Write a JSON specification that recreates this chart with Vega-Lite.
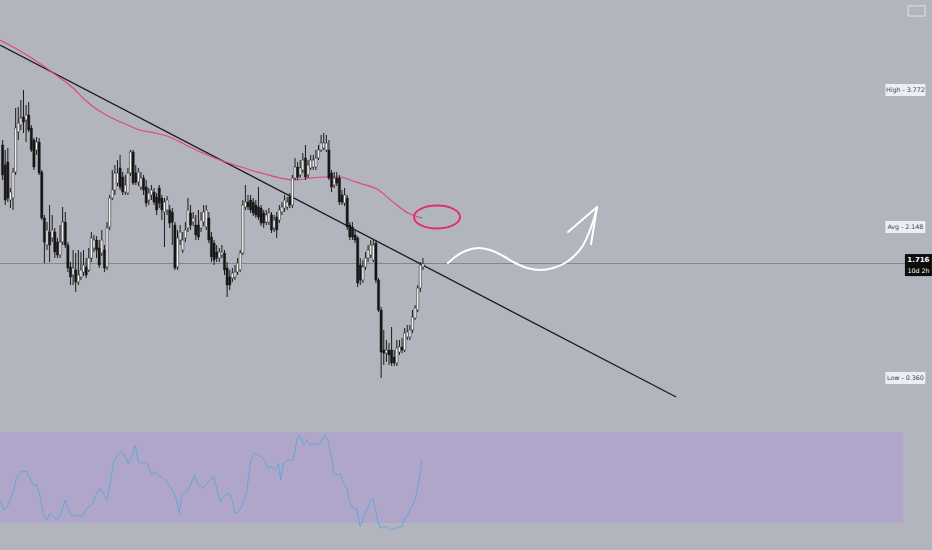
{
  "$schema": "https://vega.github.io/schema/vega-lite/v6.json",
  "background": "#b2b5bd",
  "padding": 0,
  "spacing": 0,
  "config": {"view": {"stroke": null}, "axis": {"disable": true}, "scale": {"continuousPadding": 0}, "mark": {"clip": true}},
  "datasets": {
    "candles": [
      {"t":1,"o":3.120,"h":3.179,"l":2.705,"c":2.765},{"t":2,"o":2.883,"h":3.061,"l":2.409,"c":2.468},{"t":3,"o":2.918,"h":3.085,"l":2.444,"c":2.492},{"t":4,"o":2.468,"h":2.611,"l":2.373,"c":2.563},{"t":5,"o":2.492,"h":2.848,"l":2.350,"c":2.800},{"t":6,"o":2.800,"h":3.559,"l":2.765,"c":3.322},{"t":7,"o":3.274,"h":3.571,"l":3.179,"c":3.380},{"t":8,"o":3.357,"h":3.653,"l":3.298,"c":3.440},{"t":9,"o":3.452,"h":3.772,"l":3.262,"c":3.392},{"t":10,"o":3.416,"h":3.594,"l":3.155,"c":3.476},
      {"t":11,"o":3.476,"h":3.629,"l":3.274,"c":3.298},{"t":12,"o":3.322,"h":3.357,"l":3.037,"c":3.061},{"t":13,"o":3.179,"h":3.203,"l":2.824,"c":2.859},{"t":14,"o":3.061,"h":3.215,"l":3.002,"c":3.155},{"t":15,"o":3.155,"h":3.203,"l":2.765,"c":2.788},{"t":16,"o":2.800,"h":2.824,"l":2.231,"c":2.255},{"t":17,"o":2.255,"h":2.291,"l":1.721,"c":1.970},{"t":18,"o":1.935,"h":2.207,"l":1.876,"c":2.113},{"t":19,"o":2.089,"h":2.409,"l":1.733,"c":1.935},{"t":20,"o":2.018,"h":2.291,"l":1.970,"c":2.113},
      {"t":21,"o":2.089,"h":2.137,"l":1.781,"c":1.852},{"t":22,"o":1.970,"h":2.018,"l":1.781,"c":1.817},{"t":23,"o":1.817,"h":2.172,"l":1.781,"c":1.970},{"t":24,"o":1.970,"h":2.386,"l":1.935,"c":2.207},{"t":25,"o":2.207,"h":2.326,"l":1.900,"c":1.935},{"t":26,"o":1.935,"h":1.970,"l":1.615,"c":1.663},{"t":27,"o":1.675,"h":1.733,"l":1.461,"c":1.556},{"t":28,"o":1.580,"h":1.876,"l":1.461,"c":1.663},{"t":29,"o":1.639,"h":1.840,"l":1.378,"c":1.496},{"t":30,"o":1.496,"h":1.876,"l":1.461,"c":1.580},
      {"t":31,"o":1.556,"h":1.852,"l":1.520,"c":1.639},{"t":32,"o":1.615,"h":1.876,"l":1.568,"c":1.698},{"t":33,"o":1.675,"h":1.781,"l":1.544,"c":1.580},{"t":34,"o":1.639,"h":1.900,"l":1.615,"c":1.781},{"t":35,"o":1.781,"h":2.089,"l":1.733,"c":2.018},{"t":36,"o":1.900,"h":2.054,"l":1.852,"c":1.994},{"t":37,"o":1.994,"h":2.041,"l":1.781,"c":1.876},{"t":38,"o":1.900,"h":1.994,"l":1.663,"c":1.698},{"t":39,"o":1.840,"h":2.113,"l":1.805,"c":1.994},{"t":40,"o":1.876,"h":1.935,"l":1.615,"c":1.663},
      {"t":41,"o":1.675,"h":2.207,"l":1.639,"c":2.137},{"t":42,"o":2.149,"h":2.528,"l":2.113,"c":2.492},{"t":43,"o":2.492,"h":2.824,"l":2.468,"c":2.587},{"t":44,"o":2.587,"h":2.883,"l":2.528,"c":2.788},{"t":45,"o":2.669,"h":2.942,"l":2.634,"c":2.788},{"t":46,"o":2.848,"h":3.002,"l":2.587,"c":2.622},{"t":47,"o":2.741,"h":2.800,"l":2.528,"c":2.563},{"t":48,"o":2.563,"h":2.765,"l":2.528,"c":2.646},{"t":49,"o":2.551,"h":2.848,"l":2.528,"c":2.788},{"t":50,"o":2.788,"h":3.061,"l":2.753,"c":3.037},
      {"t":51,"o":3.037,"h":3.061,"l":2.646,"c":2.669},{"t":52,"o":2.788,"h":2.883,"l":2.646,"c":2.681},{"t":53,"o":2.681,"h":2.848,"l":2.634,"c":2.800},{"t":54,"o":2.622,"h":2.800,"l":2.587,"c":2.729},{"t":55,"o":2.729,"h":2.765,"l":2.528,"c":2.587},{"t":56,"o":2.622,"h":2.705,"l":2.386,"c":2.432},{"t":57,"o":2.468,"h":2.611,"l":2.409,"c":2.551},{"t":58,"o":2.528,"h":2.646,"l":2.468,"c":2.587},{"t":59,"o":2.563,"h":2.611,"l":2.409,"c":2.444},{"t":60,"o":2.504,"h":2.551,"l":2.291,"c":2.350},
      {"t":61,"o":2.611,"h":2.646,"l":2.373,"c":2.432},{"t":62,"o":2.492,"h":2.528,"l":2.231,"c":2.350},{"t":63,"o":2.326,"h":2.492,"l":1.911,"c":2.444},{"t":64,"o":2.350,"h":2.516,"l":2.291,"c":2.468},{"t":65,"o":2.350,"h":2.409,"l":2.137,"c":2.195},{"t":66,"o":2.326,"h":2.373,"l":1.935,"c":2.207},{"t":67,"o":2.172,"h":2.207,"l":1.639,"c":1.663},{"t":68,"o":1.675,"h":2.113,"l":1.639,"c":2.018},{"t":69,"o":1.994,"h":2.172,"l":1.935,"c":2.089},{"t":70,"o":1.876,"h":2.089,"l":1.840,"c":1.994},
      {"t":71,"o":2.018,"h":2.207,"l":1.970,"c":2.113},{"t":72,"o":2.137,"h":2.492,"l":2.089,"c":2.350},{"t":73,"o":2.314,"h":2.409,"l":2.113,"c":2.172},{"t":74,"o":2.207,"h":2.326,"l":2.160,"c":2.255},{"t":75,"o":2.172,"h":2.291,"l":1.994,"c":2.054},{"t":76,"o":2.172,"h":2.350,"l":1.994,"c":2.030},{"t":77,"o":2.137,"h":2.326,"l":2.089,"c":2.231},{"t":78,"o":2.207,"h":2.409,"l":2.160,"c":2.326},{"t":79,"o":2.149,"h":2.409,"l":2.113,"c":2.350},{"t":80,"o":2.255,"h":2.326,"l":1.958,"c":1.994},
      {"t":81,"o":2.030,"h":2.089,"l":1.733,"c":1.793},{"t":82,"o":1.958,"h":1.994,"l":1.698,"c":1.757},{"t":83,"o":1.852,"h":1.935,"l":1.733,"c":1.781},{"t":84,"o":1.781,"h":1.900,"l":1.733,"c":1.852},{"t":85,"o":1.817,"h":1.935,"l":1.781,"c":1.852},{"t":86,"o":1.840,"h":1.876,"l":1.580,"c":1.639},{"t":87,"o":1.663,"h":1.733,"l":1.319,"c":1.461},{"t":88,"o":1.556,"h":1.639,"l":1.402,"c":1.461},{"t":89,"o":1.544,"h":1.663,"l":1.496,"c":1.603},{"t":90,"o":1.556,"h":1.698,"l":1.520,"c":1.615},
      {"t":91,"o":1.615,"h":1.781,"l":1.580,"c":1.721},{"t":92,"o":1.639,"h":1.876,"l":1.615,"c":1.840},{"t":93,"o":1.840,"h":2.468,"l":1.817,"c":2.409},{"t":94,"o":2.386,"h":2.646,"l":2.350,"c":2.444},{"t":95,"o":2.444,"h":2.528,"l":2.350,"c":2.386},{"t":96,"o":2.468,"h":2.528,"l":2.314,"c":2.350},{"t":97,"o":2.444,"h":2.492,"l":2.279,"c":2.314},{"t":98,"o":2.409,"h":2.468,"l":2.255,"c":2.291},{"t":99,"o":2.386,"h":2.622,"l":2.231,"c":2.267},{"t":100,"o":2.373,"h":2.409,"l":2.160,"c":2.195},
      {"t":101,"o":2.314,"h":2.350,"l":2.137,"c":2.195},{"t":102,"o":2.207,"h":2.350,"l":2.172,"c":2.291},{"t":103,"o":2.207,"h":2.373,"l":2.172,"c":2.314},{"t":104,"o":2.291,"h":2.326,"l":2.077,"c":2.113},{"t":105,"o":2.137,"h":2.291,"l":2.089,"c":2.231},{"t":106,"o":2.267,"h":2.326,"l":2.018,"c":2.113},{"t":107,"o":2.231,"h":2.409,"l":2.195,"c":2.350},{"t":108,"o":2.326,"h":2.444,"l":2.291,"c":2.386},{"t":109,"o":2.373,"h":2.528,"l":2.326,"c":2.468},{"t":110,"o":2.386,"h":2.504,"l":2.350,"c":2.444},
      {"t":111,"o":2.504,"h":2.551,"l":2.373,"c":2.409},{"t":112,"o":2.409,"h":2.765,"l":2.373,"c":2.729},{"t":113,"o":2.729,"h":2.966,"l":2.705,"c":2.859},{"t":114,"o":2.859,"h":2.918,"l":2.705,"c":2.741},{"t":115,"o":2.765,"h":2.942,"l":2.729,"c":2.848},{"t":116,"o":2.824,"h":3.025,"l":2.788,"c":2.942},{"t":117,"o":2.966,"h":3.120,"l":2.705,"c":2.741},{"t":118,"o":2.765,"h":2.942,"l":2.729,"c":2.883},{"t":119,"o":2.848,"h":3.002,"l":2.824,"c":2.942},{"t":120,"o":2.859,"h":3.002,"l":2.824,"c":2.942},
      {"t":121,"o":2.859,"h":3.061,"l":2.824,"c":2.966},{"t":122,"o":2.966,"h":3.120,"l":2.942,"c":3.061},{"t":123,"o":3.061,"h":3.239,"l":3.037,"c":3.144},{"t":124,"o":3.085,"h":3.262,"l":3.061,"c":3.144},{"t":125,"o":3.061,"h":3.239,"l":3.037,"c":3.144},{"t":126,"o":3.061,"h":3.179,"l":2.705,"c":2.729},{"t":127,"o":2.788,"h":2.824,"l":2.563,"c":2.622},{"t":128,"o":2.646,"h":2.800,"l":2.611,"c":2.729},{"t":129,"o":2.729,"h":2.800,"l":2.634,"c":2.669},{"t":130,"o":2.729,"h":2.765,"l":2.409,"c":2.444},
      {"t":131,"o":2.528,"h":2.587,"l":2.409,"c":2.444},{"t":132,"o":2.432,"h":2.611,"l":2.397,"c":2.528},{"t":133,"o":2.492,"h":2.528,"l":2.113,"c":2.149},{"t":134,"o":2.172,"h":2.207,"l":1.994,"c":2.030},{"t":135,"o":2.149,"h":2.207,"l":1.994,"c":2.030},{"t":136,"o":2.054,"h":2.113,"l":1.958,"c":1.994},{"t":137,"o":2.018,"h":2.041,"l":1.437,"c":1.485},{"t":138,"o":1.698,"h":1.781,"l":1.461,"c":1.520},{"t":139,"o":1.520,"h":1.757,"l":1.485,"c":1.675},{"t":140,"o":1.675,"h":1.852,"l":1.639,"c":1.781},
      {"t":141,"o":1.781,"h":1.935,"l":1.733,"c":1.876},{"t":142,"o":1.817,"h":1.994,"l":1.781,"c":1.935},{"t":143,"o":1.757,"h":1.994,"l":1.733,"c":1.935},{"t":144,"o":1.958,"h":1.994,"l":1.485,"c":1.520},{"t":145,"o":1.520,"h":1.544,"l":1.141,"c":1.165},{"t":146,"o":1.165,"h":1.201,"l":0.360,"c":0.667},{"t":147,"o":0.691,"h":0.928,"l":0.514,"c":0.655},{"t":148,"o":0.655,"h":0.810,"l":0.549,"c":0.691},{"t":149,"o":0.691,"h":0.774,"l":0.514,"c":0.632},{"t":150,"o":0.691,"h":0.964,"l":0.502,"c":0.537},
      {"t":151,"o":0.608,"h":0.691,"l":0.502,"c":0.537},{"t":152,"o":0.537,"h":0.810,"l":0.502,"c":0.715},{"t":153,"o":0.667,"h":0.810,"l":0.632,"c":0.727},{"t":154,"o":0.727,"h":0.833,"l":0.655,"c":0.691},{"t":155,"o":0.691,"h":0.952,"l":0.667,"c":0.893},{"t":156,"o":0.845,"h":0.988,"l":0.810,"c":0.905},{"t":157,"o":0.845,"h":0.988,"l":0.810,"c":0.928},{"t":158,"o":0.928,"h":1.165,"l":0.893,"c":1.082},{"t":159,"o":1.070,"h":1.224,"l":1.047,"c":1.189},{"t":160,"o":1.165,"h":1.461,"l":1.141,"c":1.426},
      {"t":161,"o":1.426,"h":1.733,"l":1.378,"c":1.698},{"t":162,"o":1.675,"h":1.781,"l":1.639,"c":1.716}
    ],
    "ma": [
      {"t":0,"v":4.364},{"t":5.75,"v":4.269},{"t":11.5,"v":4.163},{"t":17.2,"v":4.044},{"t":23,"v":3.914},{"t":28,"v":3.795},{"t":32.6,"v":3.653},{"t":36.4,"v":3.559},{"t":42.1,"v":3.452},{"t":47.9,"v":3.369},{"t":53.6,"v":3.298},{"t":59.4,"v":3.262},{"t":64,"v":3.227},{"t":69,"v":3.155},{"t":72.8,"v":3.096},{"t":78.5,"v":3.013},{"t":84.3,"v":2.942},{"t":90,"v":2.883},{"t":95.8,"v":2.824},{"t":101.5,"v":2.777},{"t":107.3,"v":2.729},{"t":113,"v":2.705},{"t":118.8,"v":2.729},{"t":124.5,"v":2.741},{"t":130.3,"v":2.741},{"t":134.1,"v":2.705},{"t":138.7,"v":2.658},{"t":144.4,"v":2.599},{"t":150.6,"v":2.444},{"t":156.3,"v":2.314},{"t":160.2,"v":2.267},{"t":161.7,"v":2.255}
    ],
    "trend": [{"t":0,"v":4.305},{"t":259,"v":0.134}],
    "arrow": [
      {"seg":"a","t":171.6,"v":1.722},{"seg":"a","t":174.3,"v":1.793},{"seg":"a","t":178.2,"v":1.864},{"seg":"a","t":183.1,"v":1.900},{"seg":"a","t":187.7,"v":1.876},{"seg":"a","t":192.7,"v":1.805},{"seg":"a","t":197.3,"v":1.722},{"seg":"a","t":201.9,"v":1.663},{"seg":"a","t":206.9,"v":1.639},{"seg":"a","t":211.9,"v":1.663},{"seg":"a","t":216.5,"v":1.722},{"seg":"a","t":220.3,"v":1.817},{"seg":"a","t":223.4,"v":1.935},{"seg":"a","t":225.7,"v":2.089},{"seg":"a","t":227.6,"v":2.255},{"seg":"a","t":228.7,"v":2.385},
      {"seg":"b","t":217.6,"v":2.089},{"seg":"b","t":228.7,"v":2.385},
      {"seg":"c","t":226.4,"v":1.947},{"seg":"c","t":228.7,"v":2.385}
    ],
    "levels": [
      {"label":"High - 3.772","v":3.772},{"label":"Avg - 2.148","v":2.148},{"label":"Low - 0.360","v":0.360}
    ],
    "last": [{"v":1.716,"price":"1.716","timer":"10d 2h"}],
    "rsi": [
      {"t":0,"r":40.11},{"t":1.53,"r":35.71},{"t":3.19,"r":37.91},{"t":5.11,"r":43.77},{"t":6.39,"r":50.36},{"t":8.3,"r":52.56},{"t":10.22,"r":52.56},{"t":12.13,"r":48.16},{"t":13.41,"r":45.97},{"t":14.05,"r":47.43},{"t":15.33,"r":41.57},{"t":16.6,"r":34.24},{"t":17.88,"r":31.31},{"t":19.16,"r":34.24},{"t":21.07,"r":32.05},{"t":22.35,"r":32.05},{"t":23.63,"r":34.98},{"t":24.9,"r":40.11},{"t":26.18,"r":35.71},{"t":27.46,"r":32.78},{"t":29.37,"r":33.51},{"t":31.29,"r":32.78},{"t":33.21,"r":36.44},{"t":35.12,"r":37.91},{"t":37.04,"r":43.04},{"t":38.31,"r":45.23},{"t":39.59,"r":43.04},{"t":40.87,"r":40.11},{"t":42.15,"r":46.7},{"t":43.42,"r":56.22},{"t":44.7,"r":59.15},{"t":46.62,"r":61.35},{"t":47.89,"r":59.15},{"t":49.17,"r":56.22},{"t":50.45,"r":59.15},{"t":51.72,"r":64.28},{"t":53.0,"r":56.95},{"t":54.92,"r":56.22},{"t":56.19,"r":56.95},{"t":58.11,"r":51.09},{"t":59.39,"r":52.56},{"t":61.3,"r":50.36},{"t":62.58,"r":49.63},{"t":63.86,"r":48.16},{"t":65.13,"r":45.97},{"t":66.41,"r":43.77},{"t":67.69,"r":40.11},{"t":68.58,"r":34.24},{"t":69.6,"r":41.57},{"t":70.88,"r":43.04},{"t":72.8,"r":45.97},{"t":74.46,"r":51.09},{"t":75.99,"r":46.7},{"t":77.91,"r":45.23},{"t":79.82,"r":48.16},{"t":81.74,"r":50.36},{"t":83.01,"r":45.23},{"t":84.29,"r":39.37},{"t":85.57,"r":41.57},{"t":87.48,"r":43.04},{"t":88.76,"r":40.84},{"t":90.04,"r":34.24},{"t":91.32,"r":34.98},{"t":92.59,"r":37.18},{"t":94.51,"r":43.77},{"t":95.79,"r":55.49},{"t":97.06,"r":60.62},{"t":98.98,"r":59.89},{"t":100.89,"r":58.42},{"t":102.81,"r":54.02},{"t":104.09,"r":54.76},{"t":105.36,"r":53.29},{"t":106.64,"r":56.22},{"t":107.54,"r":48.9},{"t":108.56,"r":56.22},{"t":110.47,"r":57.69},{"t":112.39,"r":57.69},{"t":113.67,"r":66.48},{"t":114.69,"r":68.68},{"t":115.58,"r":66.48},{"t":116.48,"r":64.28},{"t":117.5,"r":66.48},{"t":118.77,"r":64.28},{"t":120.05,"r":65.01},{"t":121.33,"r":64.28},{"t":122.61,"r":65.01},{"t":123.24,"r":66.48},{"t":124.52,"r":68.68},{"t":125.8,"r":65.75},{"t":127.08,"r":58.42},{"t":127.97,"r":51.83},{"t":129.63,"r":51.09},{"t":130.27,"r":51.83},{"t":131.55,"r":47.43},{"t":132.82,"r":45.23},{"t":134.1,"r":38.64},{"t":135.38,"r":36.44},{"t":136.65,"r":36.44},{"t":137.93,"r":28.38},{"t":139.21,"r":32.05},{"t":140.49,"r":35.71},{"t":141.76,"r":39.37},{"t":142.78,"r":40.84},{"t":144.06,"r":34.24},{"t":145.59,"r":27.65},{"t":146.87,"r":28.38},{"t":148.15,"r":28.38},{"t":149.43,"r":26.92},{"t":151.34,"r":27.65},{"t":152.62,"r":28.38},{"t":153.9,"r":28.38},{"t":154.79,"r":31.31},{"t":156.45,"r":34.24},{"t":158.37,"r":38.64},{"t":159.64,"r":43.04},{"t":160.92,"r":51.83},{"t":161.56,"r":57.69}
    ]
  },
  "vconcat": [
    {
      "width": 932,
      "height": 420,
      "layer": [
        {
          "data": {"name": "last"},
          "mark": {"type": "rule", "color": "#83868e", "strokeWidth": 1, "clip": true},
          "encoding": {
            "y": {"field": "v", "type": "quantitative", "scale": {"domain": [-0.138, 4.838], "nice": false, "zero": false, "padding": 0}, "axis": null},
            "x": {"datum": 0, "type": "quantitative", "scale": {"domain": [0, 357], "nice": false, "zero": false, "padding": 0}, "axis": null},
            "x2": {"datum": 346.7}
          }
        },
        {
          "data": {"name": "trend"},
          "mark": {"type": "line", "color": "#1a1a1a", "strokeWidth": 1.3, "clip": true},
          "encoding": {
            "x": {"field": "t", "type": "quantitative", "scale": {"domain": [0, 357], "nice": false, "zero": false, "padding": 0}, "axis": null},
            "y": {"field": "v", "type": "quantitative", "scale": {"domain": [-0.138, 4.838], "nice": false, "zero": false, "padding": 0}, "axis": null}
          }
        },
        {
          "data": {"name": "ma"},
          "mark": {"type": "line", "color": "#e2457a", "strokeWidth": 1.1, "interpolate": "monotone", "clip": true},
          "encoding": {
            "x": {"field": "t", "type": "quantitative", "scale": {"domain": [0, 357], "nice": false, "zero": false, "padding": 0}, "axis": null},
            "y": {"field": "v", "type": "quantitative", "scale": {"domain": [-0.138, 4.838], "nice": false, "zero": false, "padding": 0}, "axis": null}
          }
        },
        {
          "data": {"name": "candles"},
          "mark": {"type": "rule", "color": "#1c1c1c", "strokeWidth": 1, "clip": true},
          "encoding": {
            "x": {"field": "t", "type": "quantitative", "scale": {"domain": [0, 357], "nice": false, "zero": false, "padding": 0}, "axis": null},
            "y": {"field": "l", "type": "quantitative", "scale": {"domain": [-0.138, 4.838], "nice": false, "zero": false, "padding": 0}, "axis": null},
            "y2": {"field": "h"}
          }
        },
        {
          "data": {"name": "candles"},
          "mark": {"type": "bar", "size": 2.2, "stroke": "#1c1c1c", "strokeWidth": 0.5, "clip": true},
          "encoding": {
            "x": {"field": "t", "type": "quantitative", "scale": {"domain": [0, 357], "nice": false, "zero": false, "padding": 0}, "axis": null},
            "y": {"field": "o", "type": "quantitative", "scale": {"domain": [-0.138, 4.838], "nice": false, "zero": false, "padding": 0}, "axis": null},
            "y2": {"field": "c"},
            "fill": {"condition": {"test": "datum.c >= datum.o", "value": "#f7f7f7"}, "value": "#151515"}
          }
        },
        {
          "data": {"values": [{"t": 167.4, "v": 2.267}]},
          "mark": {"type": "point", "shape": "M -1 0 A 1 0.5 0 1 0 1 0 A 1 0.5 0 1 0 -1 0 Z", "size": 2116, "filled": false, "stroke": "#e0306e", "strokeWidth": 2, "opacity": 1, "clip": true},
          "encoding": {
            "x": {"field": "t", "type": "quantitative", "scale": {"domain": [0, 357], "nice": false, "zero": false, "padding": 0}, "axis": null},
            "y": {"field": "v", "type": "quantitative", "scale": {"domain": [-0.138, 4.838], "nice": false, "zero": false, "padding": 0}, "axis": null}
          }
        },
        {
          "data": {"name": "arrow"},
          "mark": {"type": "line", "color": "#ffffff", "strokeWidth": 2, "interpolate": "monotone", "strokeCap": "round", "clip": true},
          "encoding": {
            "x": {"field": "t", "type": "quantitative", "scale": {"domain": [0, 357], "nice": false, "zero": false, "padding": 0}, "axis": null},
            "y": {"field": "v", "type": "quantitative", "scale": {"domain": [-0.138, 4.838], "nice": false, "zero": false, "padding": 0}, "axis": null},
            "detail": {"field": "seg"}
          }
        },
        {
          "data": {"name": "levels"},
          "mark": {"type": "point", "shape": "M -1 -0.3 H 1 V 0.3 H -1 Z", "size": 1600, "filled": true, "fill": "#eceef3", "opacity": 1, "clip": true},
          "encoding": {
            "x": {"datum": 346.8, "type": "quantitative", "scale": {"domain": [0, 357], "nice": false, "zero": false, "padding": 0}, "axis": null},
            "y": {"field": "v", "type": "quantitative", "scale": {"domain": [-0.138, 4.838], "nice": false, "zero": false, "padding": 0}, "axis": null}
          }
        },
        {
          "data": {"name": "levels"},
          "mark": {"type": "text", "fontSize": 6.3, "font": "DejaVu Sans", "color": "#3a3d45", "align": "center", "baseline": "middle", "clip": true},
          "encoding": {
            "x": {"datum": 346.8, "type": "quantitative", "scale": {"domain": [0, 357], "nice": false, "zero": false, "padding": 0}, "axis": null},
            "y": {"field": "v", "type": "quantitative", "scale": {"domain": [-0.138, 4.838], "nice": false, "zero": false, "padding": 0}, "axis": null},
            "text": {"field": "label"}
          }
        },
        {
          "data": {"name": "last"},
          "mark": {"type": "point", "shape": "M -1 -0.7 H 1 V 0.93 H -1 Z", "size": 729, "filled": true, "fill": "#0c0c0c", "opacity": 1, "clip": true},
          "encoding": {
            "x": {"datum": 351.8, "type": "quantitative", "scale": {"domain": [0, 357], "nice": false, "zero": false, "padding": 0}, "axis": null},
            "y": {"field": "v", "type": "quantitative", "scale": {"domain": [-0.138, 4.838], "nice": false, "zero": false, "padding": 0}, "axis": null}
          }
        },
        {
          "data": {"name": "last"},
          "mark": {"type": "text", "fontSize": 7, "fontWeight": "bold", "font": "DejaVu Sans", "color": "#ffffff", "align": "center", "baseline": "middle", "dy": -4, "clip": true},
          "encoding": {
            "x": {"datum": 351.8, "type": "quantitative", "scale": {"domain": [0, 357], "nice": false, "zero": false, "padding": 0}, "axis": null},
            "y": {"field": "v", "type": "quantitative", "scale": {"domain": [-0.138, 4.838], "nice": false, "zero": false, "padding": 0}, "axis": null},
            "text": {"field": "price"}
          }
        },
        {
          "data": {"name": "last"},
          "mark": {"type": "text", "fontSize": 6.3, "font": "DejaVu Sans", "color": "#ffffff", "align": "center", "baseline": "middle", "dy": 7, "clip": true},
          "encoding": {
            "x": {"datum": 351.8, "type": "quantitative", "scale": {"domain": [0, 357], "nice": false, "zero": false, "padding": 0}, "axis": null},
            "y": {"field": "v", "type": "quantitative", "scale": {"domain": [-0.138, 4.838], "nice": false, "zero": false, "padding": 0}, "axis": null},
            "text": {"field": "timer"}
          }
        },
        {
          "data": {"values": [{"t": 351.1, "v": 4.708}]},
          "mark": {"type": "point", "shape": "M -1 -0.6 H 1 V 0.6 H -1 Z", "size": 289, "filled": false, "stroke": "#dfe1e6", "strokeWidth": 1, "opacity": 1, "clip": true},
          "encoding": {
            "x": {"field": "t", "type": "quantitative", "scale": {"domain": [0, 357], "nice": false, "zero": false, "padding": 0}, "axis": null},
            "y": {"field": "v", "type": "quantitative", "scale": {"domain": [-0.138, 4.838], "nice": false, "zero": false, "padding": 0}, "axis": null}
          }
        }
      ]
    },
    {
      "width": 932,
      "height": 130,
      "layer": [
        {
          "data": {"values": [{"lo": 30, "hi": 70, "a": 0, "b": 346}]},
          "mark": {"type": "rect", "color": "#b0a6c9", "clip": true},
          "encoding": {
            "x": {"field": "a", "type": "quantitative", "scale": {"domain": [0, 357], "nice": false, "zero": false, "padding": 0}, "axis": null},
            "x2": {"field": "b"},
            "y": {"field": "lo", "type": "quantitative", "scale": {"domain": [18.13, 75.27], "nice": false, "zero": false, "padding": 0}, "axis": null},
            "y2": {"field": "hi"}
          }
        },
        {
          "data": {"name": "rsi"},
          "mark": {"type": "line", "color": "#62a6d8", "strokeWidth": 1, "clip": true},
          "encoding": {
            "x": {"field": "t", "type": "quantitative", "scale": {"domain": [0, 357], "nice": false, "zero": false, "padding": 0}, "axis": null},
            "y": {"field": "r", "type": "quantitative", "scale": {"domain": [18.13, 75.27], "nice": false, "zero": false, "padding": 0}, "axis": null}
          }
        }
      ]
    }
  ]
}
